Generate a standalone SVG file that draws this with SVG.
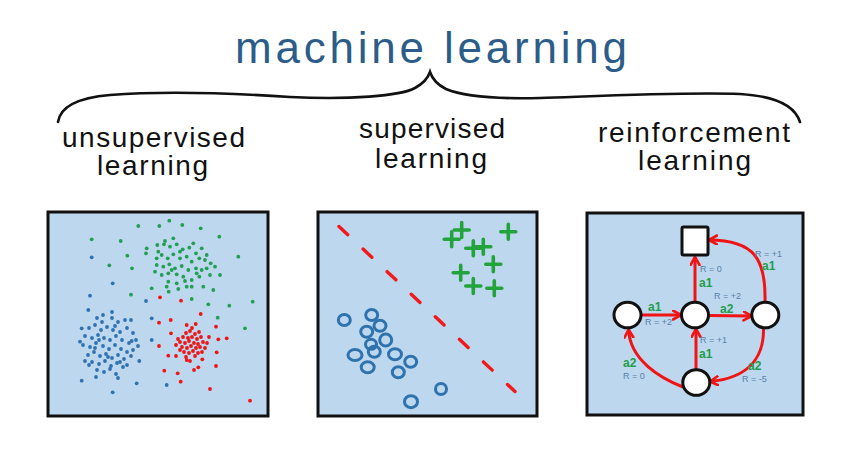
<svg xmlns="http://www.w3.org/2000/svg" width="846" height="451" viewBox="0 0 846 451">
<style>
.bg{fill:#ffffff}
.panel{fill:#bdd7ee;stroke:#111;stroke-width:3}
.title{font-family:"Liberation Sans","DejaVu Sans",sans-serif;font-size:44px;fill:#2c5d88}
.lbl{font-family:"Liberation Sans","DejaVu Sans",sans-serif;font-size:28px;fill:#111}
.brace{fill:none;stroke:#111;stroke-width:2.6;stroke-linecap:round}
.g circle{fill:#22a052}
.b circle{fill:#2f72b0}
.r circle{fill:#f01414}
.oval{fill:none;stroke:#2f73ae;stroke-width:3}
.plus{fill:none;stroke:#22a33c;stroke-width:3.6;stroke-linecap:round}
.dash{stroke:#f01a1a;stroke-width:3.4;stroke-dasharray:12 21;stroke-linecap:round}
.node{fill:#fff;stroke:#111;stroke-width:3}
.edge{fill:none;stroke:#f01414;stroke-width:3;marker-end:url(#ah)}
.act{font-family:"Liberation Sans","DejaVu Sans",sans-serif;font-size:12px;font-weight:bold;fill:#1e9e4a}
.rew{font-family:"Liberation Sans","DejaVu Sans",sans-serif;font-size:9px;fill:#5a7fa8}
</style>
<defs>
<marker id="ah" markerUnits="userSpaceOnUse" markerWidth="12" markerHeight="12" refX="9" refY="5" orient="auto">
<path d="M1,0.5 L9,5 L1,9.5" fill="none" stroke="#f01414" stroke-width="2.6" stroke-linecap="round" stroke-linejoin="round"/>
</marker>
</defs>
<rect class="bg" x="0" y="0" width="846" height="451"/>

<g id="title">
<text class="title" x="235" y="63" textLength="392">machine learning</text>
<path class="brace" d="M58,122 C60,108 75,98 110,95 C160,91 230,93 290,97 C350,100 400,96 415,88 C424,83 428,78 430,72 C432,78 436,84 446,89 C465,97 500,99 540,98 C600,96 680,92 740,94 C775,96 795,106 800,122"/>
</g>

<g id="labels">
<text class="lbl" x="62" y="147" textLength="183">unsupervised</text>
<text class="lbl" x="97" y="175" textLength="111">learning</text>
<text class="lbl" x="359" y="138" textLength="146">supervised</text>
<text class="lbl" x="375" y="168" textLength="112">learning</text>
<text class="lbl" x="598" y="142" textLength="192">reinforcement</text>
<text class="lbl" x="638" y="170" textLength="113">learning</text>
</g>

<g id="unsupervised">
<rect class="panel" x="48" y="212" width="220" height="204"/>
<g class="g">
<circle cx="138.3" cy="226" r="1.9"/><circle cx="159.3" cy="226" r="1.9"/><circle cx="169.3" cy="220.7" r="1.9"/><circle cx="182.3" cy="225" r="1.9"/><circle cx="200.7" cy="228.3" r="1.9"/><circle cx="219.3" cy="236.7" r="1.9"/><circle cx="91.7" cy="239.3" r="1.9"/><circle cx="120.7" cy="241" r="1.9"/><circle cx="146.7" cy="248.3" r="1.9"/><circle cx="146" cy="253.3" r="1.9"/><circle cx="127.3" cy="255.7" r="1.9"/><circle cx="109.3" cy="265.3" r="1.9"/><circle cx="132" cy="268.3" r="1.9"/><circle cx="238.3" cy="256.7" r="1.9"/><circle cx="151.7" cy="288.3" r="1.9"/><circle cx="168.7" cy="291.7" r="1.9"/><circle cx="178.3" cy="289" r="1.9"/><circle cx="191.7" cy="299" r="1.9"/><circle cx="208.3" cy="304.3" r="1.9"/><circle cx="229.3" cy="305.7" r="1.9"/><circle cx="252.7" cy="301.7" r="1.9"/><circle cx="217.7" cy="317.7" r="1.9"/><circle cx="245" cy="328.3" r="1.9"/><circle cx="131" cy="294.7" r="1.9"/><circle cx="213.3" cy="290" r="1.9"/><circle cx="220" cy="275" r="1.9"/><circle cx="215" cy="266.7" r="1.9"/><circle cx="206.7" cy="255" r="1.9"/>
<circle cx="157.3" cy="245" r="1.9"/><circle cx="164" cy="244.3" r="1.9"/><circle cx="170" cy="246.7" r="1.9"/><circle cx="176.7" cy="244.3" r="1.9"/><circle cx="182.7" cy="249.3" r="1.9"/><circle cx="189.3" cy="247.7" r="1.9"/><circle cx="196" cy="253.3" r="1.9"/><circle cx="201.7" cy="248.3" r="1.9"/><circle cx="156.7" cy="258.3" r="1.9"/><circle cx="161.7" cy="255" r="1.9"/><circle cx="167.7" cy="258.3" r="1.9"/><circle cx="173.3" cy="254.3" r="1.9"/><circle cx="180" cy="258.3" r="1.9"/><circle cx="186.7" cy="256.7" r="1.9"/><circle cx="191.7" cy="261.7" r="1.9"/><circle cx="199.3" cy="258.3" r="1.9"/><circle cx="205" cy="260" r="1.9"/><circle cx="156.7" cy="265" r="1.9"/><circle cx="163.3" cy="266.7" r="1.9"/><circle cx="169.3" cy="264.3" r="1.9"/><circle cx="175" cy="268.3" r="1.9"/><circle cx="181.7" cy="266" r="1.9"/><circle cx="188.3" cy="270" r="1.9"/><circle cx="196" cy="268.3" r="1.9"/><circle cx="201.7" cy="270" r="1.9"/><circle cx="206.7" cy="268.3" r="1.9"/><circle cx="161.7" cy="275" r="1.9"/><circle cx="168.3" cy="273.3" r="1.9"/><circle cx="176.7" cy="274.3" r="1.9"/><circle cx="183.3" cy="276.7" r="1.9"/><circle cx="191.7" cy="280" r="1.9"/><circle cx="199.3" cy="276.7" r="1.9"/><circle cx="168.3" cy="281.7" r="1.9"/><circle cx="176.7" cy="283.3" r="1.9"/><circle cx="185" cy="281" r="1.9"/><circle cx="191.7" cy="286.7" r="1.9"/><circle cx="203.3" cy="286.7" r="1.9"/><circle cx="165" cy="241" r="1.9"/><circle cx="173.3" cy="238.3" r="1.9"/><circle cx="158.3" cy="251.7" r="1.9"/><circle cx="180" cy="251.7" r="1.9"/><circle cx="193.3" cy="243.3" r="1.9"/><circle cx="210.7" cy="263.3" r="1.9"/><circle cx="210" cy="275" r="1.9"/><circle cx="166.7" cy="286.7" r="1.9"/><circle cx="186.7" cy="286.7" r="1.9"/><circle cx="155" cy="271.7" r="1.9"/><circle cx="171.7" cy="270" r="1.9"/><circle cx="196.7" cy="273.3" r="1.9"/>
</g>
<g class="b">
<circle cx="91.7" cy="257.3" r="1.9"/><circle cx="112.7" cy="283.3" r="1.9"/><circle cx="90" cy="295.7" r="1.9"/><circle cx="146" cy="301" r="1.9"/><circle cx="151.7" cy="318.3" r="1.9"/><circle cx="151.7" cy="340" r="1.9"/><circle cx="136.7" cy="383.3" r="1.9"/><circle cx="112.7" cy="392.3" r="1.9"/><circle cx="81.7" cy="380.7" r="1.9"/><circle cx="166.7" cy="385" r="1.9"/><circle cx="139.3" cy="361" r="1.9"/><circle cx="88.3" cy="310" r="1.9"/><circle cx="81.7" cy="328.3" r="1.9"/><circle cx="80" cy="341.7" r="1.9"/>
<circle cx="97" cy="318" r="1.9"/><circle cx="103" cy="315" r="1.9"/><circle cx="112" cy="312" r="1.9"/><circle cx="112" cy="318" r="1.9"/><circle cx="118" cy="322" r="1.9"/><circle cx="125" cy="320" r="1.9"/><circle cx="131" cy="320" r="1.9"/><circle cx="89" cy="328" r="1.9"/><circle cx="95" cy="325" r="1.9"/><circle cx="101" cy="330" r="1.9"/><circle cx="107" cy="327" r="1.9"/><circle cx="113" cy="330" r="1.9"/><circle cx="120" cy="332" r="1.9"/><circle cx="127" cy="328" r="1.9"/><circle cx="133" cy="333" r="1.9"/><circle cx="85" cy="336" r="1.9"/><circle cx="92" cy="338" r="1.9"/><circle cx="98" cy="335" r="1.9"/><circle cx="104" cy="338" r="1.9"/><circle cx="110" cy="340" r="1.9"/><circle cx="116" cy="336" r="1.9"/><circle cx="122" cy="340" r="1.9"/><circle cx="129" cy="343" r="1.9"/><circle cx="136" cy="340" r="1.9"/><circle cx="83" cy="345" r="1.9"/><circle cx="90" cy="347" r="1.9"/><circle cx="96" cy="343" r="1.9"/><circle cx="103" cy="346" r="1.9"/><circle cx="109" cy="349" r="1.9"/><circle cx="115" cy="345" r="1.9"/><circle cx="121" cy="349" r="1.9"/><circle cx="127" cy="352" r="1.9"/><circle cx="133" cy="350" r="1.9"/><circle cx="88" cy="355" r="1.9"/><circle cx="94" cy="352" r="1.9"/><circle cx="100" cy="356" r="1.9"/><circle cx="106" cy="354" r="1.9"/><circle cx="112" cy="358" r="1.9"/><circle cx="118" cy="355" r="1.9"/><circle cx="124" cy="359" r="1.9"/><circle cx="131" cy="356" r="1.9"/><circle cx="92" cy="362" r="1.9"/><circle cx="99" cy="364" r="1.9"/><circle cx="105" cy="361" r="1.9"/><circle cx="111" cy="366" r="1.9"/><circle cx="117" cy="363" r="1.9"/><circle cx="123" cy="367" r="1.9"/><circle cx="97" cy="370" r="1.9"/><circle cx="104" cy="372" r="1.9"/><circle cx="110" cy="369" r="1.9"/><circle cx="116" cy="374" r="1.9"/><circle cx="85" cy="361" r="1.9"/><circle cx="138" cy="346" r="1.9"/><circle cx="102" cy="322" r="1.9"/><circle cx="115" cy="326" r="1.9"/><circle cx="95" cy="348" r="1.9"/><circle cx="108" cy="357" r="1.9"/><circle cx="120" cy="362" r="1.9"/><circle cx="99" cy="340" r="1.9"/><circle cx="127" cy="365" r="1.9"/><circle cx="89" cy="365" r="1.9"/><circle cx="96" cy="377" r="1.9"/><circle cx="118" cy="378" r="1.9"/><circle cx="131.7" cy="341" r="1.9"/>
</g>
<g class="r">
<circle cx="160" cy="297.3" r="1.9"/><circle cx="181" cy="300.7" r="1.9"/><circle cx="200.7" cy="314" r="1.9"/><circle cx="159" cy="322.7" r="1.9"/><circle cx="170.7" cy="320" r="1.9"/><circle cx="186.7" cy="325" r="1.9"/><circle cx="195.7" cy="324" r="1.9"/><circle cx="216" cy="326.7" r="1.9"/><circle cx="159" cy="346" r="1.9"/><circle cx="168.3" cy="355.7" r="1.9"/><circle cx="176" cy="356" r="1.9"/><circle cx="216.7" cy="352.3" r="1.9"/><circle cx="218.3" cy="339.3" r="1.9"/><circle cx="226.7" cy="338.3" r="1.9"/><circle cx="216" cy="366" r="1.9"/><circle cx="164.3" cy="370.7" r="1.9"/><circle cx="177.7" cy="373.3" r="1.9"/><circle cx="194" cy="370" r="1.9"/><circle cx="198.3" cy="367.3" r="1.9"/><circle cx="180.7" cy="381.7" r="1.9"/><circle cx="210" cy="389" r="1.9"/><circle cx="250" cy="400.7" r="1.9"/><circle cx="171" cy="333.3" r="1.9"/><circle cx="202.3" cy="359.3" r="1.9"/><circle cx="186.7" cy="360" r="1.9"/>
<circle cx="186" cy="333" r="1.9"/><circle cx="190" cy="331" r="1.9"/><circle cx="195" cy="334" r="1.9"/><circle cx="199" cy="332" r="1.9"/><circle cx="183" cy="337" r="1.9"/><circle cx="188" cy="338" r="1.9"/><circle cx="192" cy="337" r="1.9"/><circle cx="197" cy="339" r="1.9"/><circle cx="201" cy="337" r="1.9"/><circle cx="180" cy="342" r="1.9"/><circle cx="185" cy="343" r="1.9"/><circle cx="189" cy="341" r="1.9"/><circle cx="194" cy="343" r="1.9"/><circle cx="198" cy="344" r="1.9"/><circle cx="203" cy="342" r="1.9"/><circle cx="182" cy="347" r="1.9"/><circle cx="187" cy="348" r="1.9"/><circle cx="191" cy="346" r="1.9"/><circle cx="196" cy="348" r="1.9"/><circle cx="200" cy="347" r="1.9"/><circle cx="205" cy="348" r="1.9"/><circle cx="184" cy="352" r="1.9"/><circle cx="189" cy="353" r="1.9"/><circle cx="193" cy="351" r="1.9"/><circle cx="198" cy="353" r="1.9"/><circle cx="186" cy="357" r="1.9"/><circle cx="195" cy="356" r="1.9"/><circle cx="178" cy="339" r="1.9"/><circle cx="207" cy="343" r="1.9"/><circle cx="180" cy="350" r="1.9"/><circle cx="202" cy="352" r="1.9"/><circle cx="190" cy="361" r="1.9"/><circle cx="176" cy="345" r="1.9"/><circle cx="209" cy="337" r="1.9"/><circle cx="192" cy="328" r="1.9"/>
</g>
</g>

<g id="supervised">
<rect class="panel" x="318" y="212" width="219" height="204"/>
<line class="dash" x1="339" y1="226.5" x2="515" y2="391.5"/>
<g id="plus-class">
<path class="plus" d="M444.2,239.3 h15 M451.7,231.8 v15"/>
<path class="plus" d="M454.2,230 h15 M461.7,222.5 v15"/>
<path class="plus" d="M500.8,231.7 h15 M508.3,224.2 v15"/>
<path class="plus" d="M465.8,248.3 h15 M473.3,240.8 v15"/>
<path class="plus" d="M475.8,246.7 h15 M483.3,239.2 v15"/>
<path class="plus" d="M485.8,264.3 h15 M493.3,256.8 v15"/>
<path class="plus" d="M453.2,272.7 h15 M460.7,265.2 v15"/>
<path class="plus" d="M465.8,286 h15 M473.3,278.5 v15"/>
<path class="plus" d="M486.8,288.3 h15 M494.3,280.8 v15"/>
</g>
<g id="circle-class">
<ellipse class="oval" cx="344.3" cy="320" rx="6" ry="5.5"/>
<ellipse class="oval" cx="371.7" cy="315" rx="6" ry="5.5"/>
<ellipse class="oval" cx="380" cy="325.7" rx="6" ry="5.5"/>
<ellipse class="oval" cx="366.7" cy="331.7" rx="6" ry="5.5"/>
<ellipse class="oval" cx="385.7" cy="340" rx="6" ry="6"/>
<ellipse class="oval" cx="371" cy="344.3" rx="5.5" ry="5"/>
<ellipse class="oval" cx="374.3" cy="351.7" rx="6" ry="5.5"/>
<ellipse class="oval" cx="355" cy="355" rx="7" ry="5.5"/>
<ellipse class="oval" cx="395" cy="354.3" rx="6.5" ry="5.5"/>
<ellipse class="oval" cx="410.7" cy="361.7" rx="6" ry="5.5"/>
<ellipse class="oval" cx="367.7" cy="367.3" rx="6.5" ry="5.5"/>
<ellipse class="oval" cx="398.3" cy="372.3" rx="6" ry="5.5"/>
<ellipse class="oval" cx="441" cy="389" rx="5.5" ry="5.5"/>
<ellipse class="oval" cx="411" cy="401.7" rx="6.5" ry="6"/>
</g>
</g>

<g id="reinforcement">
<rect class="panel" x="587" y="213" width="216" height="202"/>
<g id="connectors">
<path class="edge" d="M641,315 L681,315"/>
<path class="edge" d="M708.5,315.5 L751.5,316"/>
<path class="edge" d="M695,301.5 L695,257"/>
<path class="edge" d="M765,301.5 C766,260 755,240 709,240"/>
<path class="edge" d="M763.5,328.5 C764,358 748,378 710,381.5"/>
<path class="edge" d="M696,369 L696,329"/>
<path class="edge" d="M683,387 C660,378 630,360 628.5,329.5"/>
</g>
<g id="s-terminal"><rect class="node" x="682" y="227" width="26" height="28" rx="1.5"/></g>
<g id="s-left"><ellipse class="node" cx="627.5" cy="315" rx="13.5" ry="12.8"/></g>
<g id="s-center"><ellipse class="node" cx="695" cy="315" rx="13.5" ry="12.8"/></g>
<g id="s-right"><ellipse class="node" cx="765.3" cy="315" rx="13.5" ry="12.8"/></g>
<g id="s-bottom"><ellipse class="node" cx="696.3" cy="382.5" rx="13.5" ry="12.8"/></g>
<g id="edge-labels">
<text class="act" x="648" y="311">a1</text>
<text class="rew" x="645" y="325">R = +2</text>
<text class="rew" x="700" y="272">R = 0</text>
<text class="act" x="699" y="287">a1</text>
<text class="rew" x="714" y="299">R = +2</text>
<text class="act" x="720" y="313">a2</text>
<text class="rew" x="755" y="257">R = +1</text>
<text class="act" x="762" y="270">a1</text>
<text class="rew" x="700" y="343">R = +1</text>
<text class="act" x="699" y="358">a1</text>
<text class="act" x="623" y="367">a2</text>
<text class="rew" x="623" y="379">R = 0</text>
<text class="act" x="748" y="370">a2</text>
<text class="rew" x="742" y="382">R = -5</text>
</g>
</g>
</svg>
